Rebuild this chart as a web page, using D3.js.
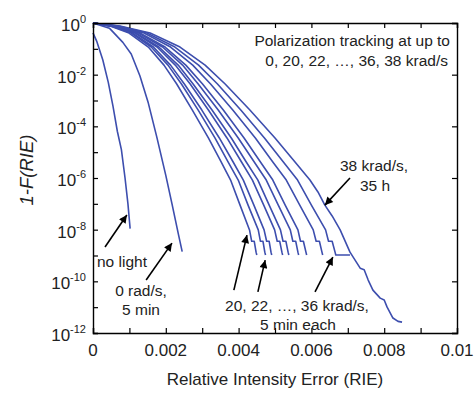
<!DOCTYPE html>
<html><head><meta charset="utf-8">
<script src="https://cdn.jsdelivr.net/npm/d3@7"></script>
<style>
body{margin:0;background:#fff}
svg{display:block}
text{font-family:"Liberation Sans",Arial,Helvetica,sans-serif;fill:#222}
</style>
</head><body>
<svg id="c" width="476" height="394"></svg>
<script>
// ---------- data ----------
// x values are RIE in units of 1e-3, y values are log10(1-F(RIE))
const xTickValues = [0,0.001,0.002,0.003,0.004,0.005,0.006,0.007,0.008,0.009,0.01];
const xTickLabels = {"0":"0","0.002":"0.002","0.004":"0.004","0.006":"0.006","0.008":"0.008","0.01":"0.01"};
const yTickExps = [0,-1,-2,-3,-4,-5,-6,-7,-8,-9,-10,-11,-12];
const yLabelExps = [0,-2,-4,-6,-8,-10,-12];

const noLight = [[0,-0.38],[0.1,-0.7],[0.27,-1.43],[0.42,-2.3],[0.55,-3.23],[0.67,-4.2],[0.78,-4.9],[0.88,-6.0],[0.96,-7.0],[1.02,-7.96]];
const zeroRad = [[0,0],[0.45,-0.2],[0.82,-0.75],[1.05,-1.2],[1.29,-2.05],[1.52,-3.1],[1.75,-4.4],[2.0,-5.9],[2.17,-7.0],[2.35,-8.2],[2.45,-8.85]];

const fanLevels = [0,-0.12,-0.39,-0.93,-1.63,-2.36,-3.37,-4.45,-5.38,-6.08,-7.05,-8.01,-8.45,-8.45,-8.87,-8.98];
const fan20 = [0,0.47,0.99,1.52,1.95,2.30,2.73,3.17,3.52,3.78,4.04,4.30,4.36,4.43,4.48,4.50];
const fan22 = [0,0.50,1.05,1.60,2.06,2.43,2.89,3.35,3.71,3.99,4.26,4.54,4.60,4.67,4.72,4.74];
const fan24 = [0,0.51,1.09,1.66,2.13,2.51,2.99,3.47,3.85,4.13,4.42,4.70,4.77,4.84,4.89,4.91];
const fan26 = [0,0.55,1.15,1.76,2.26,2.67,3.17,3.68,4.08,4.38,4.69,4.99,5.06,5.13,5.19,5.21];
const fan28 = [0,0.56,1.19,1.81,2.34,2.75,3.27,3.80,4.21,4.53,4.84,5.15,5.22,5.30,5.36,5.38];
const fan30 = [0,0.59,1.25,1.91,2.46,2.89,3.44,3.99,4.43,4.76,5.09,5.42,5.49,5.57,5.63,5.65];
const fan32 = [0,0.62,1.30,1.98,2.55,3.01,3.58,4.15,4.60,4.94,5.28,5.63,5.70,5.78,5.85,5.87];
const fan34 = [0,0.66,1.40,2.13,2.74,3.23,3.84,4.46,4.94,5.31,5.68,6.05,6.13,6.22,6.29,6.31];
const fan36 = [0,0.70,1.48,2.25,2.90,3.42,4.06,4.71,5.23,5.62,6.00,6.39,6.47,6.57,6.65,6.67];
const fan36Tail = [[7.06,-8.98]];

const rad38 = [[0,0],[0.74,-0.12],[1.57,-0.39],[2.39,-0.93],[3.08,-1.63],[3.63,-2.36],[4.31,-3.37],[5.0,-4.45],[5.55,-5.38],[5.96,-6.08],[6.18,-6.54],[6.37,-7.05],[6.57,-7.47],[6.79,-8.01],[7.06,-8.87],[7.34,-9.49],[7.45,-9.55],[7.56,-9.95],[7.69,-10.34],[7.89,-10.65],[8.0,-10.72],[8.08,-11.0],[8.24,-11.42],[8.38,-11.55],[8.49,-11.58]];

// annotation arrows: [x0,y0,x1,y1] (RIE 1e-3, log10)
const arrows = [
  [0.33,-8.67,0.93,-7.43],
  [1.46,-9.95,2.17,-8.52],
  [3.87,-10.34,4.23,-8.21],
  [4.53,-10.41,4.73,-9.18],
  [6.10,-10.41,6.59,-9.06],
  [7.06,-6.0,6.37,-7.05]
];

// ---------- chart ----------
const svg = d3.select("#c");
const L=93, R=457, T=23, B=333;
const x = d3.scaleLinear().domain([0,0.01]).range([L,R]);
const y = d3.scaleLog().domain([1e-12,1]).range([B,T]);
const px = d => x(d/1000);
const py = e => y(Math.pow(10,e));
const blue = "#3d4eae";

const plot = svg.append("g");
const line = d3.line().x(d=>px(d[0])).y(d=>py(d[1]));
const fans = [fan20,fan22,fan24,fan26,fan28,fan30,fan32,fan34,fan36];
const series = [noLight, zeroRad];
fans.forEach((xs,i)=>{
  let pts = xs.map((v,j)=>[v,fanLevels[j]]);
  if(i===fans.length-1) pts = pts.concat(fan36Tail);
  series.push(pts);
});
series.push(rad38);
plot.selectAll("path.curve").data(series).join("path")
  .attr("class","curve").attr("d",line)
  .attr("fill","none").attr("stroke",blue).attr("stroke-width",1.6)
  .attr("stroke-linejoin","round");

// axes
const gBottom = svg.append("g").attr("transform",`translate(0,${B})`)
  .call(d3.axisBottom(x).tickValues(xTickValues).tickSize(-5).tickFormat(()=>""));
const gTop = svg.append("g").attr("transform",`translate(0,${T})`)
  .call(d3.axisTop(x).tickValues(xTickValues).tickSize(-5).tickFormat(()=>""));
const gLeft = svg.append("g").attr("transform",`translate(${L},0)`)
  .call(d3.axisLeft(y).tickValues(yTickExps.map(e=>Math.pow(10,e))).tickSize(-5).tickFormat(()=>""));
const gRight = svg.append("g").attr("transform",`translate(${R},0)`)
  .call(d3.axisRight(y).tickValues(yLabelExps.map(e=>Math.pow(10,e))).tickSize(-5).tickFormat(()=>""));
[gBottom,gTop,gLeft,gRight].forEach(g=>{
  g.selectAll("path.domain").attr("stroke","#000").attr("stroke-width",1.4);
  g.selectAll(".tick line").attr("stroke","#000").attr("stroke-width",1.2);
});

// x tick labels
svg.append("g").selectAll("text").data(xTickValues.filter(v=>xTickLabels[String(v)]!==undefined)).join("text")
  .attr("x",d=>x(d)).attr("y",B+23).attr("text-anchor","middle")
  .style("font-size","17px").text(d=>xTickLabels[String(d)]);

// y tick labels 10^e
const yl = svg.append("g").selectAll("text").data(yLabelExps).join("text")
  .attr("x",L-7).attr("y",d=>py(d)+8).attr("text-anchor","end").style("font-size","17px");
yl.append("tspan").text("10");
yl.append("tspan").attr("dy",-8).style("font-size","11px").text(d=>d===0?"0":"-"+(-d));

// axis titles
svg.append("text").attr("x",(L+R)/2).attr("y",385).attr("text-anchor","middle")
  .style("font-size","17px").text("Relative Intensity Error (RIE)");
svg.append("text").attr("transform","translate(33,170) rotate(-90)").attr("text-anchor","middle")
  .style("font-size","18.5px").style("font-style","italic").text("1-F(RIE)");

// arrows
svg.append("defs").append("marker").attr("id","ah").attr("viewBox","0 0 10 10")
  .attr("refX",10).attr("refY",5).attr("markerWidth",10).attr("markerHeight",8)
  .attr("markerUnits","userSpaceOnUse").attr("orient","auto")
  .append("path").attr("d","M0,0L10,5L0,10z").attr("fill","#000");
svg.append("g").selectAll("line").data(arrows).join("line")
  .attr("x1",d=>px(d[0])).attr("y1",d=>py(d[1])).attr("x2",d=>px(d[2])).attr("y2",d=>py(d[3]))
  .attr("stroke","#000").attr("stroke-width",1.6).attr("marker-end","url(#ah)");

// annotation texts
const notes = [
  {t:"Polarization tracking at up to", x:450, y:46, a:"end"},
  {t:"0, 20, 22, \u2026, 36, 38 krad/s", x:448, y:66, a:"end"},
  {t:"38 krad/s,", x:374, y:171, a:"middle"},
  {t:"35 h", x:375, y:191, a:"middle"},
  {t:"no light", x:97, y:267, a:"start"},
  {t:"0 rad/s,", x:141, y:296, a:"middle"},
  {t:"5 min", x:141, y:315, a:"middle"},
  {t:"20, 22, \u2026, 36 krad/s,", x:297, y:311, a:"middle"},
  {t:"5 min each", x:298, y:330, a:"middle"}
];
svg.append("g").selectAll("text").data(notes).join("text")
  .attr("x",d=>d.x).attr("y",d=>d.y).attr("text-anchor",d=>d.a)
  .style("font-size","15.5px").text(d=>d.t);
</script>
</body></html>
